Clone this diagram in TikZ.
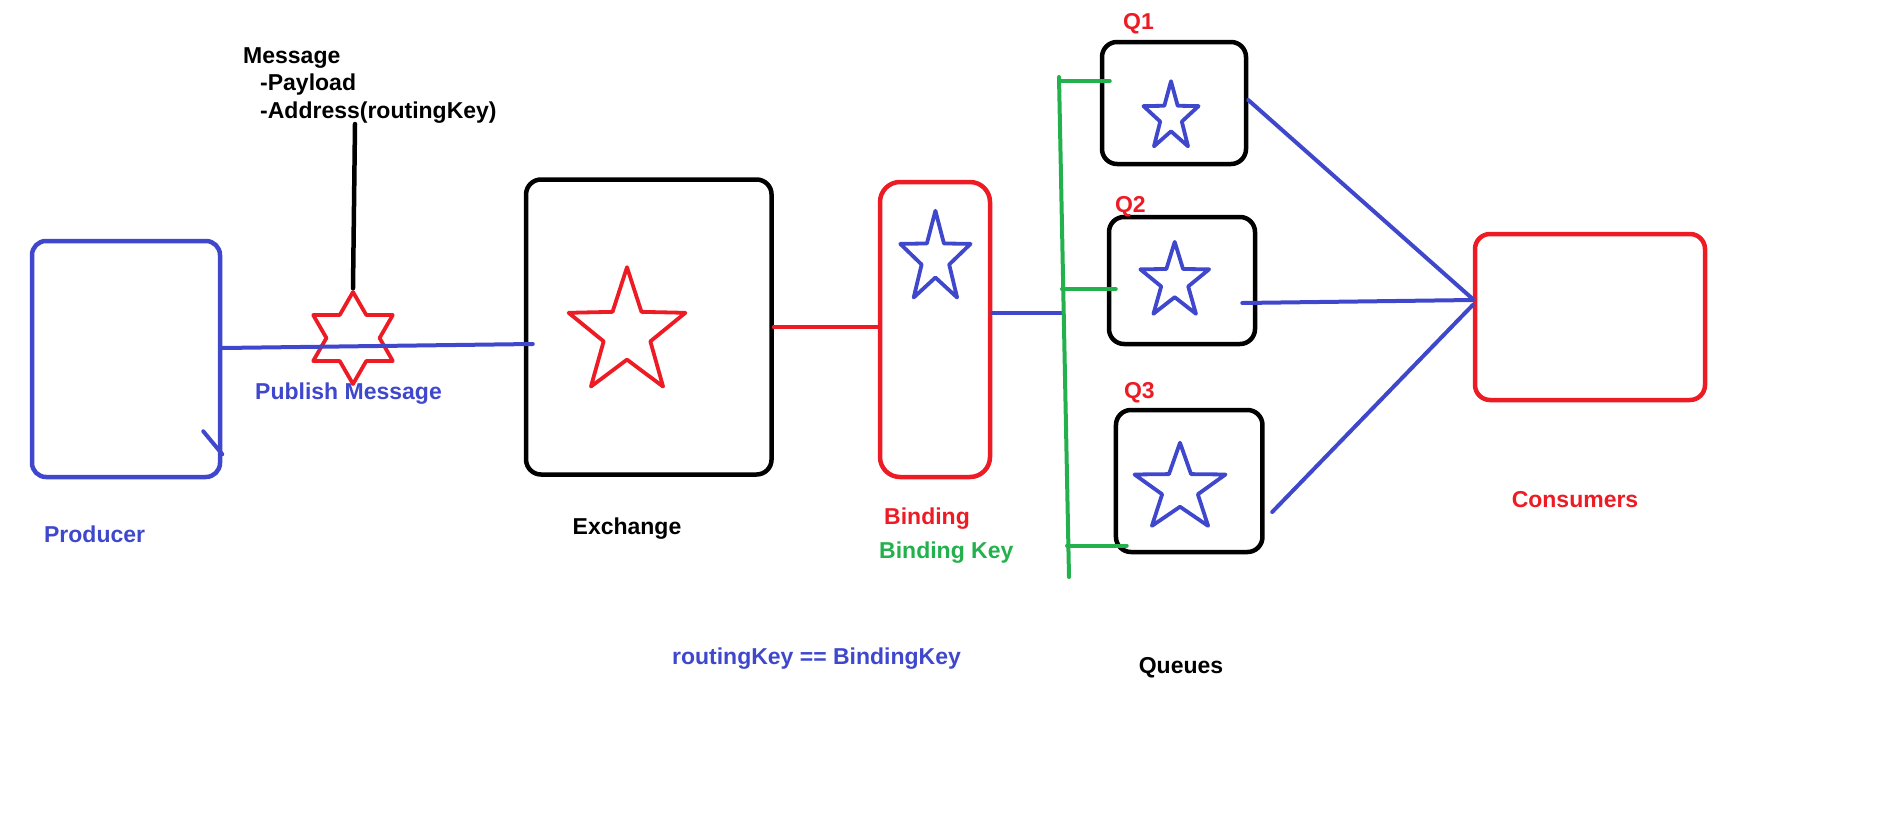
\documentclass[tikz,border=0pt]{standalone}
\usepackage{fontspec}
\setmainfont{Liberation Sans}
\usetikzlibrary{shapes.geometric}
\definecolor{pblue}{RGB}{63,72,204}
\definecolor{pred}{RGB}{237,28,36}
\definecolor{pgreen}{RGB}{34,177,76}
\begin{document}
\begin{tikzpicture}[>=latex,line join=bevel,
  box/.style={draw,line width=4.5bp,rounded corners=15bp,inner sep=0pt},
  pent/.style={star,star points=5,star point ratio=2.55,draw,line width=3.8bp,line join=round,inner sep=0pt},
  hexa/.style={star,star points=6,star point ratio=1.732,draw,line width=3.8bp,line join=round,inner sep=0pt},
  lbl/.style={font=\fontsize{23bp}{27.5bp}\selectfont\bfseries,inner sep=0pt},
  wire/.style={line width=4bp,line cap=round},
  ]
\useasboundingbox (0bp,0bp) rectangle (1901bp,-822bp);
%%
\node (node_producer) at (126bp,-359bp) [box,draw=pblue,rounded corners=14bp,minimum width=188bp,minimum height=236bp] {};
  \node (node_exchange) at (648.8bp,-327bp) [box,draw=black,minimum width=245.5bp,minimum height=295bp] {};
  \node (node_binding) at (935bp,-329.5bp) [box,draw=pred,rounded corners=20bp,minimum width=110bp,minimum height=295bp] {};
  \node (node_q1) at (1174bp,-103bp) [box,draw=black,minimum width=144bp,minimum height=122bp] {};
  \node (node_q2) at (1182bp,-280.5bp) [box,draw=black,minimum width=146bp,minimum height=127bp] {};
  \node (node_q3) at (1189.2bp,-481bp) [box,draw=black,minimum width=146.5bp,minimum height=142bp] {};
  \node (node_consumers) at (1590bp,-317bp) [box,draw=pred,minimum width=230bp,minimum height=166bp] {};
%%
\node (node_hexstar) at (353bp,-338bp) [hexa,draw=pred,minimum size=92bp] {};
  \node (node_xstar) at (627bp,-333.2bp) [pent,draw=pred,star point ratio=2.5,minimum size=132bp,xscale=0.93] {};
  \node (node_bstar) at (935.4bp,-258.7bp) [pent,draw=pblue,minimum size=96bp,xscale=0.77] {};
  \node (node_q1star) at (1171bp,-117.2bp) [pent,draw=pblue,minimum size=72bp,xscale=0.805] {};
  \node (node_q2star) at (1174.7bp,-281.6bp) [pent,draw=pblue,minimum size=79.5bp,xscale=0.91] {};
  \node (node_q3star) at (1180bp,-488.7bp) [pent,draw=pblue,minimum size=92bp,xscale=1.04] {};
%%
\node (node_message) at (243bp,-118bp) [lbl,anchor=base west,align=left] {Message\\\hspace*{17bp}-Payload\\\hspace*{17bp}-Address(routingKey)};
  \node (node_publish) at (255bp,-399bp) [lbl,anchor=base west,text=pblue] {Publish Message};
  \node (node_producer_lbl) at (94.6bp,-542.7bp) [lbl,anchor=base,text=pblue] {Producer};
  \node (node_exchange_lbl) at (627bp,-534.5bp) [lbl,anchor=base] {Exchange};
  \node (node_binding_lbl) at (884bp,-524.5bp) [lbl,anchor=base west,text=pred] {Binding};
  \node (node_bkey_lbl) at (879bp,-558bp) [lbl,anchor=base west,text=pgreen] {Binding Key};
  \node (node_q1_lbl) at (1138.5bp,-29.4bp) [lbl,anchor=base,text=pred] {Q1};
  \node (node_q2_lbl) at (1130.4bp,-212bp) [lbl,anchor=base,text=pred] {Q2};
  \node (node_q3_lbl) at (1139.4bp,-398.6bp) [lbl,anchor=base,text=pred] {Q3};
  \node (node_consumers_lbl) at (1575bp,-507.5bp) [lbl,anchor=base,text=pred] {Consumers};
  \node (node_queues_lbl) at (1181bp,-673bp) [lbl,anchor=base] {Queues};
  \node (node_rule) at (816.5bp,-664bp) [lbl,anchor=base,text=pblue] {routingKey == BindingKey};
%%
\coordinate (msg_tail) at (355bp,-124bp);
  \coordinate (bk_in) at (1062bp,-313bp);
  \coordinate (spine_top) at (1059bp,-77bp);
  \coordinate (spine_bot) at (1069bp,-577bp);
  \coordinate (bk_q1) at (1059bp,-81bp);
  \coordinate (bk_q2) at (1062bp,-289bp);
  \coordinate (bk_q3) at (1067bp,-545.5bp);
%
  \draw [wire,pblue] ([xshift=-19bp,yshift=48bp]node_producer.south east) -- ([yshift=25bp]node_producer.south east);
  \draw [wire,pblue] ([yshift=11bp]node_producer.east) -- ([xshift=9bp,yshift=-17bp]node_exchange.west);
  \draw [wire,black,line width=4.5bp] (msg_tail) -- (node_hexstar.north);
  \draw [wire,pred] (node_exchange.east) -- (node_exchange.east -| node_binding.west);
  \draw [wire,pblue] (node_binding.east |- bk_in) -- (bk_in);
  \draw [wire,pgreen] (spine_top) -- (spine_bot);
  \draw [wire,pgreen,shorten >=-10bp] (bk_q1) -- (bk_q1 -| node_q1.west);
  \draw [wire,pgreen,shorten >=-9bp] (bk_q2) -- (bk_q2 -| node_q2.west);
  \draw [wire,pgreen,shorten >=-13bp] (bk_q3) -- (bk_q3 -| node_q3.west);
  \draw [wire,pblue] ([yshift=3bp]node_q1.east) -- ([yshift=18bp]node_consumers.west);
  \draw [wire,pblue] ([xshift=-15bp,yshift=-22.5bp]node_q2.east) -- ([yshift=17bp]node_consumers.west);
  \draw [wire,pblue] ([xshift=7.5bp,yshift=-31bp]node_q3.east) -- ([yshift=12bp]node_consumers.west);
%
\end{tikzpicture}
\end{document}
